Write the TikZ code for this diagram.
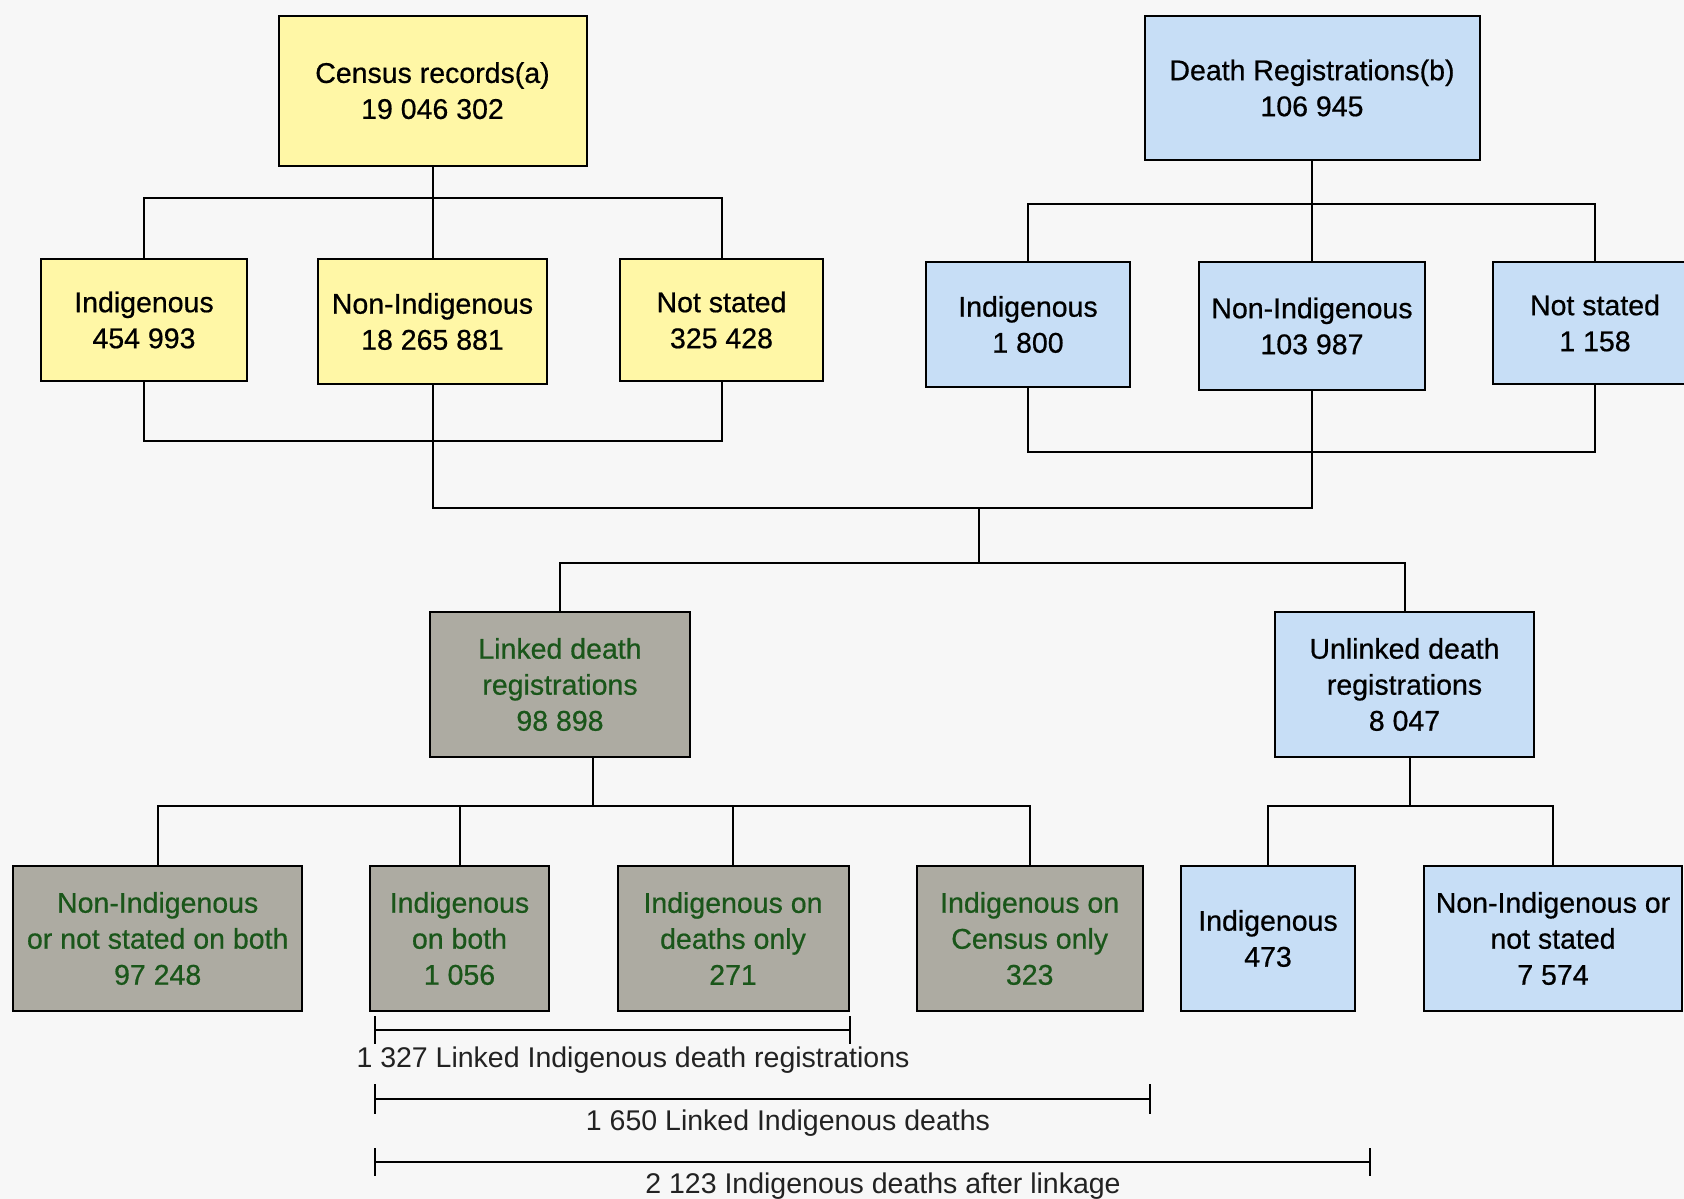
\documentclass[tikz,border=0pt]{standalone}
\usepackage{fontspec}
\setmainfont{Liberation Sans}
\newfontfamily\myheavy{Liberation Sans}[FakeBold=0.6]
\newcommand\myboxfont{\myheavy\fontsize{28.5}{36}\selectfont}
\newcommand\mylabfont{\fontsize{28.5}{36}\selectfont}
\definecolor{bgc}{HTML}{F7F7F7}
\definecolor{yel}{HTML}{FFF7A6}
\definecolor{blu}{HTML}{C7DEF6}
\definecolor{gry}{HTML}{ADABA2}
\definecolor{grn}{HTML}{1A561A}
\definecolor{lbl}{HTML}{222222}
\tikzset{
  box/.style={draw, line width=2pt, inner sep=0pt, align=center, font=\myboxfont, text=black},
  ybox/.style={box, fill=yel},
  bbox/.style={box, fill=blu},
  gbox/.style={box, fill=gry, text=grn},
  conn/.style={line width=2pt},
  brk/.style={line width=2pt},
  lab/.style={font=\mylabfont, text=lbl, inner sep=0pt}
}
\begin{document}
\begin{tikzpicture}[x=1pt,y=-1pt]
\useasboundingbox (0,0) rectangle (1684,1199);
\clip (0,0) rectangle (1684,1199);
\fill[bgc] (0,0) rectangle (1684,1199);

% bus coordinates
\coordinate (cb1) at (0,198);
\coordinate (cb2) at (0,441);
\coordinate (db1) at (0,204);
\coordinate (db2) at (0,452);
\coordinate (mid) at (0,508);
\coordinate (j) at (979,508);
\coordinate (lb) at (0,563);
\coordinate (rb) at (0,806);

% census side
\node[ybox, minimum width=308, minimum height=150] (census) at (432.5,90.7) {Census records(a)\\19 046 302};
\node[ybox, minimum width=206, minimum height=122] (cind) at (144,320) {Indigenous\\454 993};
\node[ybox, minimum width=229, minimum height=125] (cnon) at (432.5,321.5) {Non-Indigenous\\18 265 881};
\node[ybox, minimum width=203, minimum height=122] (cns) at (721.5,320) {Not stated\\325 428};

% death side
\node[bbox, minimum width=335, minimum height=144] (death) at (1312,88) {Death Registrations(b)\\106 945};
\node[bbox, minimum width=204, minimum height=125] (dind) at (1028,324.5) {Indigenous\\1 800};
\node[bbox, minimum width=226, minimum height=128] (dnon) at (1312,326) {Non-Indigenous\\103 987};
\node[bbox, minimum width=204, minimum height=122] (dns) at (1595,323) {Not stated\\1 158};

% linked / unlinked
\node[gbox, minimum width=260, minimum height=145] (linked) at (560,684.5) {Linked death\\registrations\\98 898};
\node[bbox, minimum width=259, minimum height=145] (unlinked) at (1404.5,684.5) {Unlinked death\\registrations\\8 047};

% bottom row
\node[gbox, minimum width=289, minimum height=145] (lnon) at (157.7,938.5) {Non-Indigenous\\or not stated on both\\97 248};
\node[gbox, minimum width=179, minimum height=145] (lboth) at (459.5,938.5) {Indigenous\\on both\\1 056};
\node[gbox, minimum width=231, minimum height=145] (ldeaths) at (733,938.5) {Indigenous on\\deaths only\\271};
\node[gbox, minimum width=226, minimum height=145] (lcensus) at (1029.7,938.5) {Indigenous on\\Census only\\323};
\node[bbox, minimum width=174, minimum height=145] (uind) at (1268,938.5) {Indigenous\\473};
\node[bbox, minimum width=258, minimum height=145] (unon) at (1553,938.5) {Non-Indigenous or\\not stated\\7 574};

% census connectors
\draw[conn] (census.south) -- (cnon.north);
\draw[conn] (cind.north) -- (cind.north |- cb1) -- (cns.north |- cb1) -- (cns.north);
\draw[conn] (cind.south) -- (cind.south |- cb2) -- (cns.south |- cb2) -- (cns.south);
\draw[conn] (cnon.south) -- (cnon.south |- mid) -- (dnon.south |- mid) -- (dnon.south);

% death connectors
\draw[conn] (death.south) -- (dnon.north);
\draw[conn] (dind.north) -- (dind.north |- db1) -- (dns.north |- db1) -- (dns.north);
\draw[conn] (dind.south) -- (dind.south |- db2) -- (dns.south |- db2) -- (dns.south);

% to linked / unlinked
\draw[conn] (j) -- (j |- lb);
\draw[conn] (linked.north) -- (linked.north |- lb) -- (unlinked.north |- lb) -- (unlinked.north);

% linked children
\draw[conn] ([xshift=33pt]linked.south) -- ([xshift=33pt]linked.south |- rb);
\draw[conn] (lnon.north) -- (lnon.north |- rb) -- (lcensus.north |- rb) -- (lcensus.north);
\draw[conn] (lboth.north) -- (lboth.north |- rb);
\draw[conn] (ldeaths.north) -- (ldeaths.north |- rb);

% unlinked children
\draw[conn] ([xshift=5pt]unlinked.south) -- ([xshift=5pt]unlinked.south |- rb);
\draw[conn] (uind.north) -- (uind.north |- rb) -- (unon.north |- rb) -- (unon.north);

% brackets
\coordinate (b1l) at (375,1030);
\coordinate (b1r) at (850,1030);
\coordinate (b2l) at (375,1099);
\coordinate (b2r) at (1150,1099);
\coordinate (b3l) at (375,1162);
\coordinate (b3r) at (1370,1162);
\draw[brk] (b1l) -- (b1r);
\draw[brk] ([yshift=14pt]b1l) -- ([yshift=-14pt]b1l);
\draw[brk] ([yshift=14pt]b1r) -- ([yshift=-14pt]b1r);
\draw[brk] (b2l) -- (b2r);
\draw[brk] ([yshift=15pt]b2l) -- ([yshift=-15pt]b2l);
\draw[brk] ([yshift=15pt]b2r) -- ([yshift=-15pt]b2r);
\draw[brk] (b3l) -- (b3r);
\draw[brk] ([yshift=14pt]b3l) -- ([yshift=-14pt]b3l);
\draw[brk] ([yshift=14pt]b3r) -- ([yshift=-14pt]b3r);

\node[lab] (t1) at (633,1060) {1 327 Linked Indigenous death registrations};
\node[lab] (t2) at (788,1123) {1 650 Linked Indigenous deaths};
\node[lab] (t3) at (883,1186) {2 123 Indigenous deaths after linkage};
\end{tikzpicture}
\end{document}
